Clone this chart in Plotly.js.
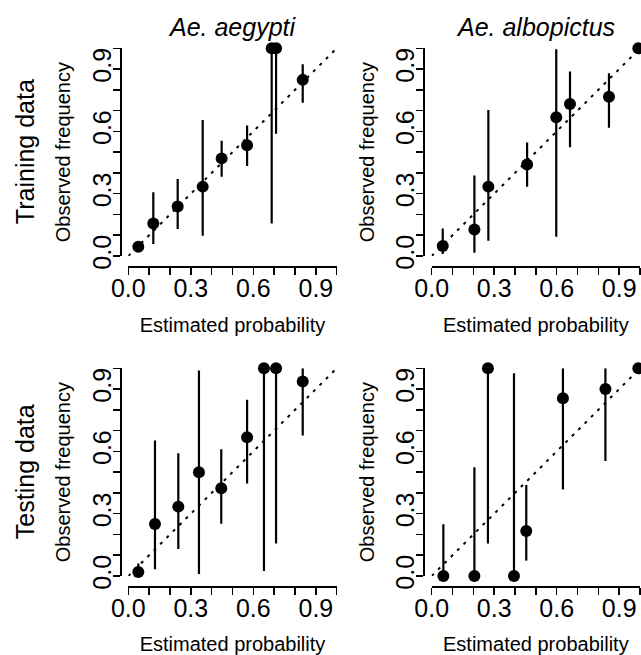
<!DOCTYPE html>
<html>
<head>
<meta charset="utf-8">
<script src="https://cdn.plot.ly/plotly-3.0.1.min.js"></script>
<style>
html,body{margin:0;padding:0;background:#fff;}
#chart{width:641px;height:655px;}
</style>
</head>
<body>
<div id="chart"></div>
<script>
// ---- data ----
const columnTitles = ['Ae. aegypti', 'Ae. albopictus'];
const rowTitles = ['Training data', 'Testing data'];
const xTitle = 'Estimated probability';
const yTitle = 'Observed frequency';
const tickVals = [0, 0.1, 0.2, 0.3, 0.4, 0.5, 0.6, 0.7, 0.8, 0.9, 1.0];
const tickText = ['0.0', '', '', '0.3', '', '', '0.6', '', '', '0.9', ''];
const diagX = [0, 1];
const diagY = [0, 1];

// Ae. aegypti, training
const aegTrainX  = [0.048, 0.120, 0.237, 0.357, 0.448, 0.570, 0.688, 0.709, 0.837];
const aegTrainY  = [0.045, 0.157, 0.238, 0.334, 0.470, 0.533, 1.000, 1.000, 0.848];
const aegTrainLo = [0.030, 0.058, 0.130, 0.098, 0.382, 0.433, 0.157, 0.589, 0.738];
const aegTrainHi = [0.060, 0.307, 0.371, 0.655, 0.555, 0.628, 1.000, 1.000, 0.923];

// Ae. albopictus, training
const albTrainX  = [0.053, 0.205, 0.272, 0.458, 0.598, 0.664, 0.851, 0.992];
const albTrainY  = [0.048, 0.128, 0.334, 0.440, 0.668, 0.732, 0.767, 1.000];
const albTrainLo = [0.010, 0.016, 0.074, 0.334, 0.093, 0.523, 0.618, 1.000];
const albTrainHi = [0.133, 0.387, 0.703, 0.547, 0.995, 0.888, 0.880, 1.000];

// Ae. aegypti, testing
const aegTestX  = [0.048, 0.128, 0.240, 0.339, 0.446, 0.570, 0.651, 0.709, 0.837];
const aegTestY  = [0.019, 0.250, 0.334, 0.499, 0.422, 0.668, 1.000, 1.000, 0.936];
const aegTestLo = [0.005, 0.032, 0.130, 0.010, 0.252, 0.445, 0.024, 0.157, 0.677];
const aegTestHi = [0.060, 0.652, 0.591, 0.989, 0.610, 0.848, 1.000, 1.000, 1.000];

// Ae. albopictus, testing
const albTestX  = [0.056, 0.205, 0.270, 0.395, 0.454, 0.630, 0.834, 0.992];
const albTestY  = [0.000, 0.000, 1.000, 0.000, 0.217, 0.856, 0.900, 1.000];
const albTestLo = [0.000, 0.000, 0.156, 0.000, 0.074, 0.417, 0.554, 1.000];
const albTestHi = [0.249, 0.523, 1.000, 0.976, 0.438, 1.000, 1.000, 1.000];

// ---- layout geometry ----
const W = 641, H = 655;
const FONT = 'Liberation Sans, Arial, Helvetica, sans-serif';
const colX0 = [128.3, 431.7], colX1 = [336.7, 640.0];
const rowY0 = [256.0, 576.0], rowY1 = [48.3, 368.3];
const yAxisLineX = [120.0, 423.3];
const xAxisLineY = [266.0, 586.0];

const panels = [
  {x: aegTrainX, y: aegTrainY, lo: aegTrainLo, hi: aegTrainHi, col: 0, row: 0},
  {x: albTrainX, y: albTrainY, lo: albTrainLo, hi: albTrainHi, col: 1, row: 0},
  {x: aegTestX,  y: aegTestY,  lo: aegTestLo,  hi: aegTestHi,  col: 0, row: 1},
  {x: albTestX,  y: albTestY,  lo: albTestLo,  hi: albTestHi,  col: 1, row: 1}
];

const traces = [];
const layout = {
  width: W, height: H,
  margin: {l: 0, r: 0, t: 0, b: 0},
  paper_bgcolor: '#fff', plot_bgcolor: '#fff',
  showlegend: false,
  font: {family: FONT, color: '#000'},
  annotations: []
};

panels.forEach((p, i) => {
  const n = i + 1;
  const xa = n === 1 ? 'x' : 'x' + n;
  const ya = n === 1 ? 'y' : 'y' + n;
  const xKey = n === 1 ? 'xaxis' : 'xaxis' + n;
  const yKey = n === 1 ? 'yaxis' : 'yaxis' + n;

  traces.push({
    type: 'scatter', mode: 'lines', x: diagX, y: diagY,
    xaxis: xa, yaxis: ya, hoverinfo: 'skip',
    line: {color: '#000', width: 2, dash: '3px,6px'},
    cliponaxis: false
  });
  traces.push({
    type: 'scatter', mode: 'markers', x: p.x, y: p.y,
    xaxis: xa, yaxis: ya, cliponaxis: false,
    marker: {color: '#000', size: 12, symbol: 'circle'},
    error_y: {
      type: 'data', symmetric: false,
      array: p.hi.map((h, k) => h - p.y[k]),
      arrayminus: p.lo.map((l, k) => p.y[k] - l),
      color: '#000', thickness: 2.2, width: 0
    }
  });

  const common = {
    range: [0, 1], tickmode: 'array', tickvals: tickVals, ticktext: tickText,
    ticks: 'outside', ticklen: 7, tickwidth: 1.5, tickcolor: '#000',
    showline: true, linecolor: '#000', linewidth: 1.5,
    showgrid: false, zeroline: false, fixedrange: true,
    tickfont: {family: FONT, size: 25, color: '#000'},
    ticklabelstandoff: -8,
    anchor: 'free'
  };
  layout[xKey] = Object.assign({}, common, {
    domain: [colX0[p.col] / W, colX1[p.col] / W],
    position: 1 - xAxisLineY[p.row] / H,
    title: {text: xTitle, font: {family: FONT, size: 20, color: '#000'}, standoff: 17}
  });
  layout[yKey] = Object.assign({}, common, {
    domain: [1 - rowY0[p.row] / H, 1 - rowY1[p.row] / H],
    position: yAxisLineX[p.col] / W,
    tickangle: -90,
    title: {text: yTitle, font: {family: FONT, size: 20, color: '#000'}, standoff: 10}
  });
});

columnTitles.forEach((t, c) => {
  layout.annotations.push({
    text: t, xref: 'paper', yref: 'paper', showarrow: false,
    x: (colX0[c] + colX1[c]) / 2 / W, y: 1 - 27 / H,
    xanchor: 'center', yanchor: 'middle',
    font: {family: FONT, size: 25, color: '#000', style: 'italic'}
  });
});
rowTitles.forEach((t, r) => {
  layout.annotations.push({
    text: t, xref: 'paper', yref: 'paper', showarrow: false,
    x: 25 / W, y: 1 - (rowY0[r] + rowY1[r]) / 2 / H,
    xanchor: 'center', yanchor: 'middle', textangle: -90,
    font: {family: FONT, size: 25, color: '#000'}
  });
});

Plotly.newPlot('chart', traces, layout, {displayModeBar: false, staticPlot: true});
</script>
</body>
</html>
